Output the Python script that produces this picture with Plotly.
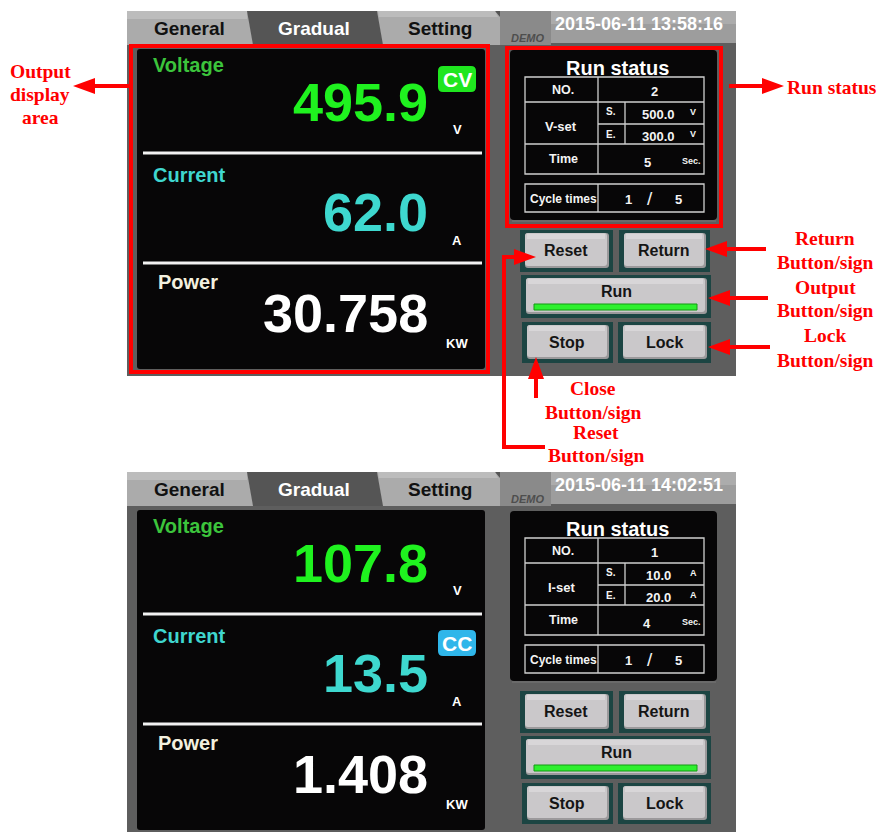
import math
import plotly.graph_objects as go

# ---------------- data ----------------
TAB_LABELS = ["General", "Gradual", "Setting"]
ACTIVE_TAB = "Gradual"
DEMO_LABEL = "DEMO"
TIMESTAMPS = ["2015-06-11 13:58:16", "2015-06-11 14:02:51"]
READ_LABELS = ["Voltage", "Current", "Power"]
READ_UNITS = ["V", "A", "KW"]
VOLTAGE_READ = ["495.9", "107.8"]
CURRENT_READ = ["62.0", "13.5"]
POWER_READ = ["30.758", "1.408"]
MODE = ["CV", "CC"]
RUN_NO = ["2", "1"]
SET_NAME = ["V-set", "I-set"]
SET_START = ["500.0", "10.0"]
SET_END = ["300.0", "20.0"]
SET_UNIT = ["V", "A"]
TIME_SEC = ["5", "4"]
CYCLE_NOW = ["1", "1"]
CYCLE_TOTAL = ["5", "5"]
BUTTON_LABELS = ["Reset", "Return", "Run", "Stop", "Lock"]
CALLOUT_OUTPUT = ["Output", "display", "area"]
CALLOUT_RUN = ["Run status"]
CALLOUT_RETURN = ["Return", "Button/sign"]
CALLOUT_OUTBTN = ["Output", "Button/sign"]
CALLOUT_LOCK = ["Lock", "Button/sign"]
CALLOUT_CLOSE = ["Close", "Button/sign"]
CALLOUT_RESET = ["Reset", "Button/sign"]

# ---------------- styles ----------------
SANS = "Liberation Sans"
SERIF = "Liberation Serif"
RED = "#ff0000"
SCREEN = "#5e5e5e"
PANEL = "#070607"
TAB_LIGHT = "#ababab"
TAB_DARK = "#555555"
FRAME = "#1c4543"
BTN = "#cac8ca"
READ_LABEL_COL = ["#3cc43c", "#3fd6cf", "#f3f0df"]
READ_VALUE_COL = ["#1ff21f", "#3ed8cf", "#ffffff"]
MODE_COL = {"CV": "#1fe61f", "CC": "#2fb6ea"}

shapes = []
annos = []


def rect(x0, y0, x1, y1, fill, line=None, lw=0):
    shapes.append(dict(type="rect", xref="x", yref="y", x0=x0, y0=y0, x1=x1, y1=y1,
                       fillcolor=fill, line=dict(color=line or fill, width=lw)))


def outline(x0, y0, x1, y1, color, lw):
    shapes.append(dict(type="rect", xref="x", yref="y", x0=x0, y0=y0, x1=x1, y1=y1,
                       fillcolor="rgba(0,0,0,0)", line=dict(color=color, width=lw)))


def path(d, fill=None, line=None, lw=0):
    shapes.append(dict(type="path", xref="x", yref="y", path=d,
                       fillcolor=fill or "rgba(0,0,0,0)",
                       line=dict(color=line or "rgba(0,0,0,0)", width=lw)))


def rrect(x0, y0, x1, y1, r, fill, line=None, lw=0):
    d = (f"M{x0+r},{y0} L{x1-r},{y0} Q{x1},{y0} {x1},{y0+r} L{x1},{y1-r} "
         f"Q{x1},{y1} {x1-r},{y1} L{x0+r},{y1} Q{x0},{y1} {x0},{y1-r} "
         f"L{x0},{y0+r} Q{x0},{y0} {x0+r},{y0} Z")
    path(d, fill, line, lw)


def seg(x0, y0, x1, y1, color, lw):
    shapes.append(dict(type="line", xref="x", yref="y", x0=x0, y0=y0, x1=x1, y1=y1,
                       line=dict(color=color, width=lw)))


def txt(x, y, s, size, color, family=SANS, bold=True, xanchor="center", italic=False):
    annos.append(dict(x=x, y=y, xref="x", yref="y", text=s, showarrow=False,
                      xanchor=xanchor, yanchor="middle",
                      font=dict(family=family, size=size, color=color,
                                weight="bold" if bold else "normal",
                                style="italic" if italic else "normal")))


def arrow(x0, y0, x1, y1, hl=22, hw=16, lw=4, color=RED):
    dx, dy = x1 - x0, y1 - y0
    L = math.hypot(dx, dy)
    ux, uy = dx / L, dy / L
    bx, by = x1 - ux * hl, y1 - uy * hl
    seg(x0, y0, bx, by, color, lw)
    px, py = -uy * hw / 2, ux * hw / 2
    path(f"M{x1},{y1} L{bx+px},{by+py} L{bx-px},{by-py} Z", fill=color)


def button(fx0, fy0, fx1, fy1, label, dy, run_bar=False):
    rect(fx0, fy0 + dy, fx1, fy1 + dy, FRAME)
    ix0, iy0, ix1, iy1 = fx0 + 5, fy0 + 3 + dy, fx1 - 4, fy1 - 4 + dy
    rrect(ix0, iy0, ix1, iy1, 3, "#9b999b")
    rrect(ix0, iy0, ix1 - 2, iy1 - 2, 3, BTN)
    rect(ix0 + 2, iy0 + 1, ix1 - 4, iy0 + 6, "#d8d6d8")
    cy = (iy0 + iy1) / 2
    if run_bar:
        txt((ix0 + ix1) / 2, iy0 + 13, label, 16, "#151515")
        rect(ix0 + 8, iy1 - 10, ix1 - 10, iy1 - 4, "#2ef02e", "#129a12", 1)
    else:
        txt((ix0 + ix1) / 2 - 1, cy, label, 16, "#151515")


def panel(k, dy, bottom, highlight):
    # screen background
    rect(127, 11 + dy, 736, bottom, SCREEN)
    # tab row
    rect(127, 11 + dy, 551, 45 + dy, TAB_DARK)
    path(f"M127,{11+dy} L247,{11+dy} L253,{45+dy} L127,{45+dy} Z", fill=TAB_LIGHT)
    path(f"M377,{11+dy} L495,{11+dy} L500,{17+dy} L500,{45+dy} L383,{45+dy} Z", fill=TAB_LIGHT)
    rect(127, 11 + dy, 247, 19 + dy, "#bcbcbc")
    path(f"M378,{11+dy} L495,{11+dy} L498,{17+dy} L379,{17+dy} Z", fill="#bcbcbc")
    rect(500, 11 + dy, 551, 45 + dy, "#8a8a8a")
    rect(551, 11 + dy, 736, 43 + dy, "#9d9d9d")
    rect(551, 11 + dy, 736, 24 + dy, "#acacac")
    tab_x = [189, 314, 440]
    for lab, tx in zip(TAB_LABELS, tab_x):
        txt(tx, 28 + dy, lab, 19, "#ffffff" if lab == ACTIVE_TAB else "#111111")
    txt(527, 38 + dy, DEMO_LABEL, 11, "#4e4e4e", italic=True)
    txt(639, 24 + dy, TIMESTAMPS[k], 18, "#ffffff")

    # output display
    rrect(137, 49 + dy, 485, min(369 + dy, 850), 3, PANEL)
    seg(143, 153 + dy, 482, 153 + dy, "#f2f2f2", 3)
    seg(143, 263 + dy, 482, 263 + dy, "#f2f2f2", 3)
    reads = [VOLTAGE_READ[k], CURRENT_READ[k], POWER_READ[k]]
    label_y = [65, 175, 282]
    label_x = [151, 151, 156]
    value_y = [102, 212, 313]
    unit_y = [129, 240, 343]
    for i in range(3):
        txt(label_x[i], label_y[i] + dy, READ_LABELS[i], 20, READ_LABEL_COL[i], xanchor="left")
        txt(430, value_y[i] + dy, reads[i], 54, READ_VALUE_COL[i], xanchor="right")
        txt(457, unit_y[i] + dy, READ_UNITS[i], 13, "#ffffff")
    badge_row = 0 if MODE[k] == "CV" else 1
    by0 = [66, 169][badge_row] + dy
    rrect(438, by0, 476, by0 + 26, 5, MODE_COL[MODE[k]])
    txt(457, by0 + 13, MODE[k], 21, "#ffffff")
    if highlight:
        outline(131, 46, 488, 372, RED, 4)

    # run status
    rrect(510, 50 + dy, 717, 220 + dy, 4, PANEL)
    seg(512, 221 + dy, 716, 221 + dy, "#6f6f6f", 1.5)
    txt(617, 68 + dy, "Run status", 20, "#ffffff")
    lc, lw = "#cfcfcf", 1.3
    outline(525, 77 + dy, 704, 174 + dy, lc, lw)
    seg(525, 102 + dy, 704, 102 + dy, lc, lw)
    seg(598, 124 + dy, 704, 124 + dy, lc, lw)
    seg(525, 144 + dy, 704, 144 + dy, lc, lw)
    seg(598, 77 + dy, 598, 174 + dy, lc, lw)
    seg(625, 102 + dy, 625, 144 + dy, lc, lw)
    outline(525, 184 + dy, 704, 212 + dy, lc, lw)
    seg(598, 184 + dy, 598, 212 + dy, lc, lw)
    W = "#f4f4f4"
    txt(563, 90 + dy, "NO.", 12.5, W)
    txt(654, 91 + dy, RUN_NO[k], 13, W)
    txt(561, 126 + dy, SET_NAME[k], 13, W)
    txt(611, 111 + dy, "S.", 10, W)
    txt(611, 134 + dy, "E.", 10, W)
    txt(658, 114 + dy, SET_START[k], 13, W)
    txt(658, 136 + dy, SET_END[k], 13, W)
    txt(693, 112 + dy, SET_UNIT[k], 9, W)
    txt(693, 134 + dy, SET_UNIT[k], 9, W)
    txt(563, 159 + dy, "Time", 12.5, W)
    txt(647, 162 + dy, TIME_SEC[k], 13, W)
    txt(691, 161 + dy, "Sec.", 9, W)
    txt(563, 199 + dy, "Cycle times", 12, W)
    txt(628, 199 + dy, CYCLE_NOW[k], 13, W)
    txt(650, 198 + dy, "/", 19, W, bold=False)
    txt(678, 199 + dy, CYCLE_TOTAL[k], 13, W)
    if highlight:
        outline(507, 48, 721, 226, RED, 4)

    # buttons
    button(520, 230, 613, 272, BUTTON_LABELS[0], dy)
    button(619, 230, 710, 272, BUTTON_LABELS[1], dy)
    button(521, 275, 711, 318, BUTTON_LABELS[2], dy, run_bar=True)
    button(522, 322, 613, 363, BUTTON_LABELS[3], dy)
    button(618, 322, 711, 363, BUTTON_LABELS[4], dy)


panel(0, 0, 376, True)
panel(1, 461, 840, False)


def callout(lines, x, ys):
    for s, y in zip(lines, ys):
        txt(x, y, s, 19.5, RED, family=SERIF)


# callouts (top screen only)
callout(CALLOUT_OUTPUT, 40, [71, 94, 117])
arrow(130, 86, 73, 86)
callout(CALLOUT_RUN, 832, [87])
arrow(729, 86, 784, 86)
callout(CALLOUT_RETURN, 825, [238, 262])
arrow(766, 249, 705, 249)
callout(CALLOUT_OUTBTN, 825, [287, 310])
arrow(768, 298, 708, 298)
callout(CALLOUT_LOCK, 825, [335, 360])
arrow(770, 347, 708, 347)
callout(CALLOUT_CLOSE, 593, [388, 412])
arrow(536, 398, 536, 357)
callout(CALLOUT_RESET, 596, [432, 455])
path("M545,447 L504,447 L504,257 L515,257", line=RED, lw=4)
arrow(504, 257, 536, 257)

fig = go.Figure()
fig.update_layout(
    width=881, height=832,
    margin=dict(l=0, r=0, t=0, b=0),
    paper_bgcolor="white", plot_bgcolor="white",
    xaxis=dict(range=[0, 881], visible=False, fixedrange=True),
    yaxis=dict(range=[832, 0], visible=False, fixedrange=True),
    shapes=shapes, annotations=annos, showlegend=False,
)
fig.write_html(
    "out.html",
    config={"displayModeBar": False},
    post_script="document.body.style.margin='0';document.body.style.overflow='hidden';",
)
